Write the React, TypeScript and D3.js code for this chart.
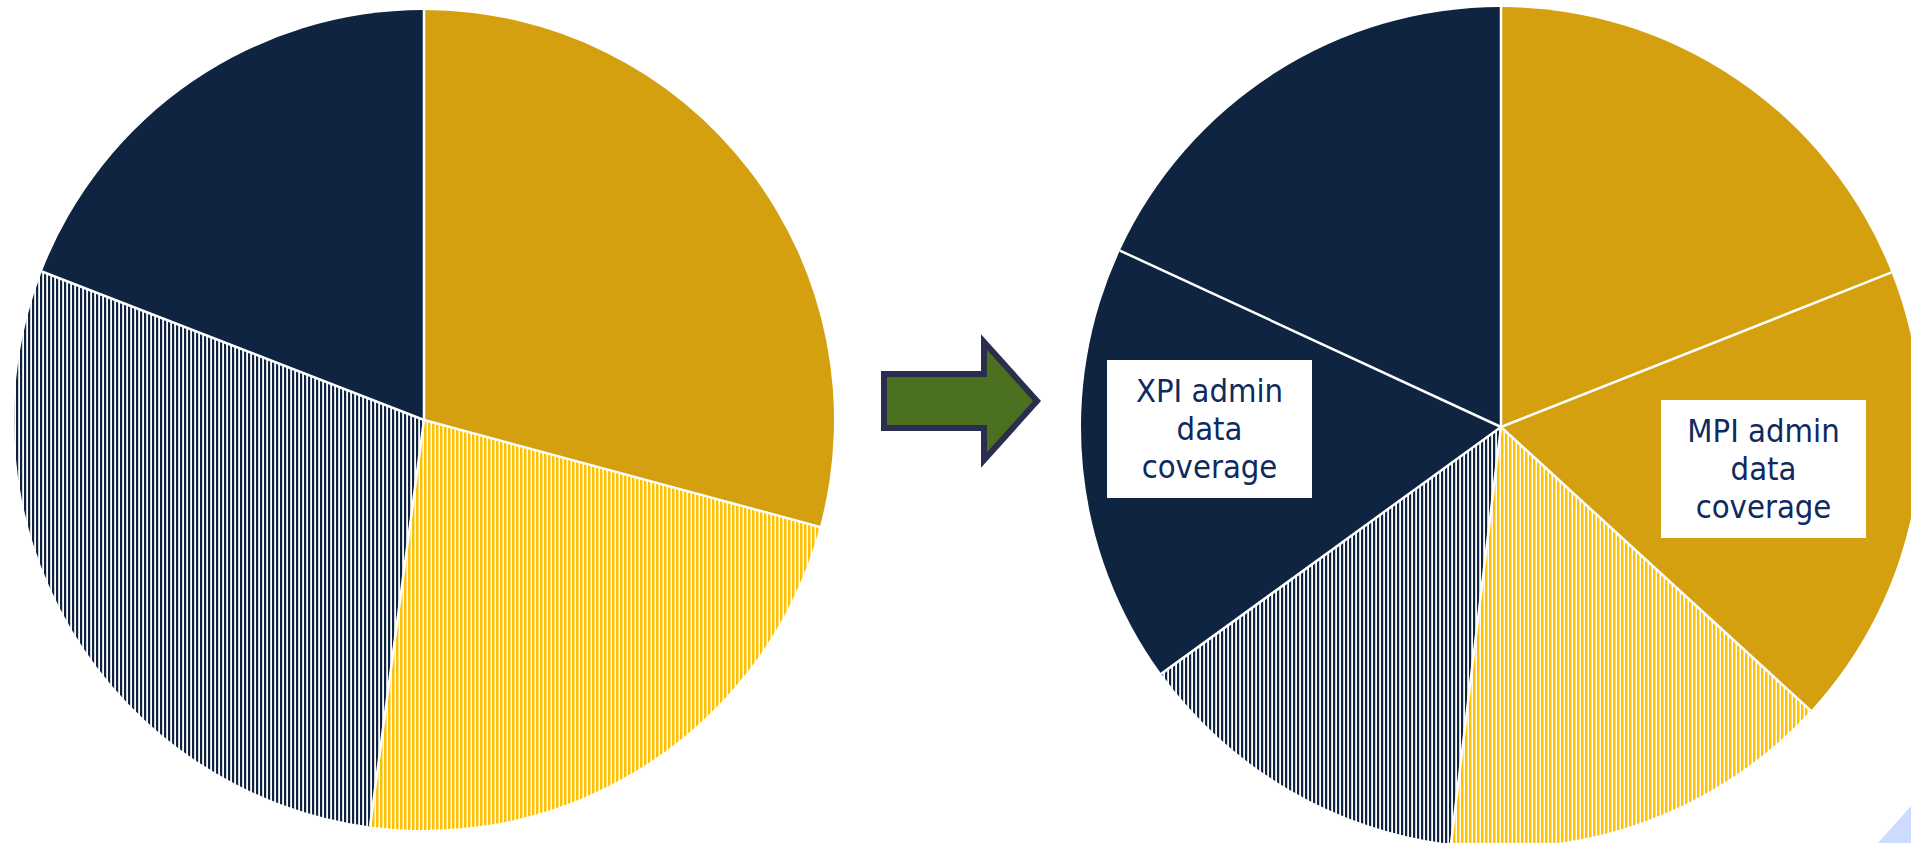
import React from "react";
import * as d3 from "d3";

// ---- Data (shares of each pie, clockwise from 12 o'clock) ----
const beforeCategories = ["MPI covered", "MPI not covered", "XPI not covered", "XPI covered"];
const beforeValues = [29.2, 22.9, 28.8, 19.1];
const beforeKinds = ["goldSolid", "goldHatch", "navyHatch", "navySolid"];

const afterCategories = [
  "MPI covered",
  "MPI admin data coverage",
  "MPI not covered",
  "XPI not covered",
  "XPI admin data coverage",
  "XPI covered",
];
const afterValues = [19.0, 17.8, 15.1, 13.1, 16.9, 18.1];
const afterKinds = ["goldSolid", "goldSolid", "goldHatch", "navyHatch", "navySolid", "navySolid"];

const labelLines = ["admin", "data", "coverage"];

// ---- Styles ----
const W = 1911;
const H = 843;
const GOLD = "#D4A010";
const GOLD_LINE = "#FFC000";
const NAVY = "#0F2440";
const TEXT = "#0E2A5E";

const fillFor = (kind: string) =>
  kind === "goldSolid"
    ? GOLD
    : kind === "navySolid"
    ? NAVY
    : kind === "goldHatch"
    ? "url(#hatchGold)"
    : "url(#hatchNavy)";

type PieProps = {
  cx: number;
  cy: number;
  r: number;
  categories: string[];
  values: number[];
  kinds: string[];
};

function Pie({ cx, cy, r, categories, values, kinds }: PieProps) {
  const data = categories.map((c, i) => ({ c, v: values[i], k: kinds[i] }));
  const arcs = d3
    .pie<{ c: string; v: number; k: string }>()
    .sort(null)
    .value((d) => d.v)
    .startAngle(0)
    .endAngle(2 * Math.PI)(data);
  const arcGen = d3
    .arc<d3.PieArcDatum<{ c: string; v: number; k: string }>>()
    .innerRadius(0)
    .outerRadius(r);
  return (
    <g transform={`translate(${cx},${cy})`}>
      {arcs.map((a, i) => (
        <path key={i} d={arcGen(a) || ""} fill={fillFor(a.data.k)} stroke="none" />
      ))}
      {arcs.map((a, i) => {
        const ang = a.startAngle;
        return (
          <line
            key={"s" + i}
            x1={0}
            y1={0}
            x2={r * Math.sin(ang)}
            y2={-r * Math.cos(ang)}
            stroke="#ffffff"
            strokeWidth={2.5}
          />
        );
      })}
    </g>
  );
}

function LabelBox({ x, y, w, h, prefix }: { x: number; y: number; w: number; h: number; prefix: string }) {
  const lines = [prefix + " " + labelLines[0], labelLines[1], labelLines[2]];
  return (
    <g>
      <rect x={x} y={y} width={w} height={h} fill="#ffffff" />
      {lines.map((t, i) => (
        <text
          key={i}
          x={x + w / 2}
          y={y + 42 + i * 38}
          textAnchor="middle"
          fill={TEXT}
          style={{
            fontFamily: "'DejaVu Sans Condensed', 'DejaVu Sans', Verdana, sans-serif",
            fontStretch: "condensed",
            fontSize: 32.5,
          }}
        >
          {t}
        </text>
      ))}
    </g>
  );
}

export default function App() {
  // arrow geometry
  const ax0 = 884, ay0 = 374, ay1 = 428, axs = 984, ah0 = 342, ah1 = 460, atip = 1037, amid = 401;
  const arrowPts = [
    [ax0, ay0],
    [axs, ay0],
    [axs, ah0],
    [atip, amid],
    [axs, ah1],
    [axs, ay1],
    [ax0, ay1],
  ]
    .map((p) => p.join(","))
    .join(" ");

  return (
    <svg
      width={W}
      height={H}
      style={{ position: "fixed", left: 0, top: 0, display: "block", background: "#ffffff" }}
    >
      <defs>
        <pattern id="hatchGold" patternUnits="userSpaceOnUse" width={4} height={10}>
          <rect x={0} y={0} width={4} height={10} fill="#ffffff" />
          <rect x={0} y={0} width={2.5} height={10} fill={GOLD_LINE} />
        </pattern>
        <pattern id="hatchNavy" patternUnits="userSpaceOnUse" width={4} height={10}>
          <rect x={0} y={0} width={4} height={10} fill="#ffffff" />
          <rect x={0} y={0} width={2.2} height={10} fill={NAVY} />
        </pattern>
      </defs>

      <Pie cx={424} cy={420} r={410} categories={beforeCategories} values={beforeValues} kinds={beforeKinds} />
      <Pie cx={1501} cy={427} r={420} categories={afterCategories} values={afterValues} kinds={afterKinds} />

      <polygon points={arrowPts} fill="#4B7020" stroke="#2B2D4F" strokeWidth={6} strokeLinejoin="miter" />

      <LabelBox x={1107} y={360} w={205} h={138} prefix="XPI" />
      <LabelBox x={1661} y={400} w={205} h={138} prefix="MPI" />

      <polygon points={`${W},806 ${W},${H} 1878,${H}`} fill="#CCDBFF" />
    </svg>
  );
}
